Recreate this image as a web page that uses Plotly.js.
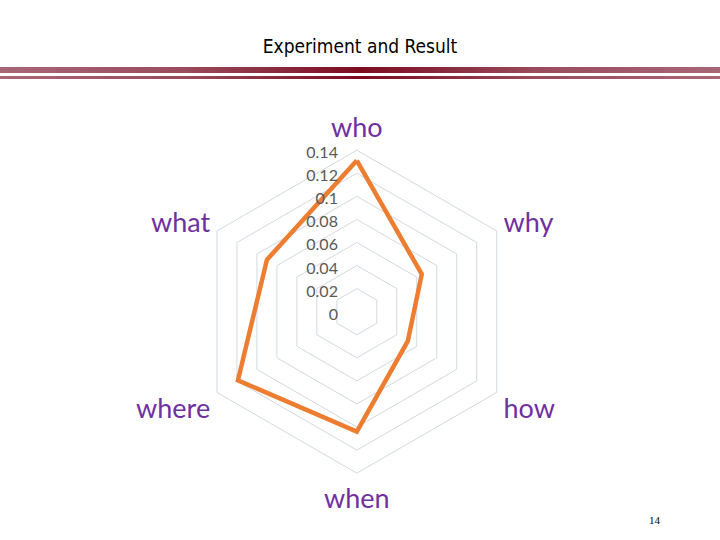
<!DOCTYPE html>
<html>
<head>
<meta charset="utf-8">
<script src="https://cdn.plot.ly/plotly-3.0.1.min.js"></script>
<style>
  body { margin: 0; background: #fff; }
  #wrap { position: relative; width: 720px; height: 540px; overflow: hidden; }
  #chart { position: absolute; left: 0; top: 0; width: 720px; height: 540px; }
  .stripe {
    position: absolute; left: 0; width: 720px;
    background: linear-gradient(to right, #a86677 0%, #9a4c5e 25%, #7b0c20 50%, #9a4c5e 75%, #a86677 100%);
  }
  #title {
    position: absolute; left: 0; width: 720px; top: 35px; text-align: center;
    font-family: "Liberation Sans Narrow", "DejaVu Sans Condensed", sans-serif;
    font-size: 19px; color: #000;
  }
  #page {
    position: absolute; left: 649px; top: 514px;
    font-family: "Liberation Serif", serif; font-size: 11px; color: #000;
  }
</style>
</head>
<body>
<div id="wrap">
  <div id="chart"></div>
  <div id="title">Experiment and Result</div>
  <div class="stripe" style="top:67px;height:6px;"></div>
  <div class="stripe" style="top:76px;height:3px;"></div>
  <div id="page">14</div>
</div>
<script>
var categories = ['who', 'why', 'how', 'when', 'where', 'what'];
var scores = [0.131, 0.065, 0.051, 0.104, 0.119, 0.090];
var radialTicks = [0, 0.02, 0.04, 0.06, 0.08, 0.1, 0.12, 0.14];

// close the loop
var rClosed = scores.concat([scores[0]]);
var thetaClosed = categories.concat([categories[0]]);

var gridColor = '#d3d9df';

var data = [{
  type: 'scatterpolar',
  mode: 'lines',
  r: rClosed,
  theta: thetaClosed,
  line: { color: '#ED7D31', width: 4.5 },
  hoverinfo: 'skip'
}];

var layout = {
  width: 720,
  height: 540,
  margin: { l: 0, r: 0, t: 0, b: 0 },
  paper_bgcolor: 'rgba(0,0,0,0)',
  showlegend: false,
  polar: {
    domain: { x: [0.2713, 0.7199], y: [0.1237, 0.7219] },
    gridshape: 'linear',
    bgcolor: 'rgba(0,0,0,0)',
    radialaxis: {
      range: [0, 0.14],
      tickvals: radialTicks,
      angle: 90,
      side: 'counterclockwise',
      showline: false,
      gridcolor: gridColor,
      gridwidth: 1,
      ticks: 'outside',
      ticklen: 4,
      tickcolor: 'rgba(0,0,0,0)',
      tickfont: { family: 'Lato, sans-serif', size: 16, color: '#595959' }
    },
    angularaxis: {
      type: 'category',
      categoryarray: categories,
      rotation: 90,
      direction: 'clockwise',
      showgrid: false,
      showline: true,
      linecolor: gridColor,
      linewidth: 1,
      ticks: 'outside',
      ticklen: 2,
      tickcolor: 'rgba(0,0,0,0)',
      tickfont: { family: 'Lato, sans-serif', size: 27, color: '#7030A0' }
    }
  }
};

Plotly.newPlot('chart', data, layout, { displayModeBar: false, staticPlot: true });
</script>
</body>
</html>
